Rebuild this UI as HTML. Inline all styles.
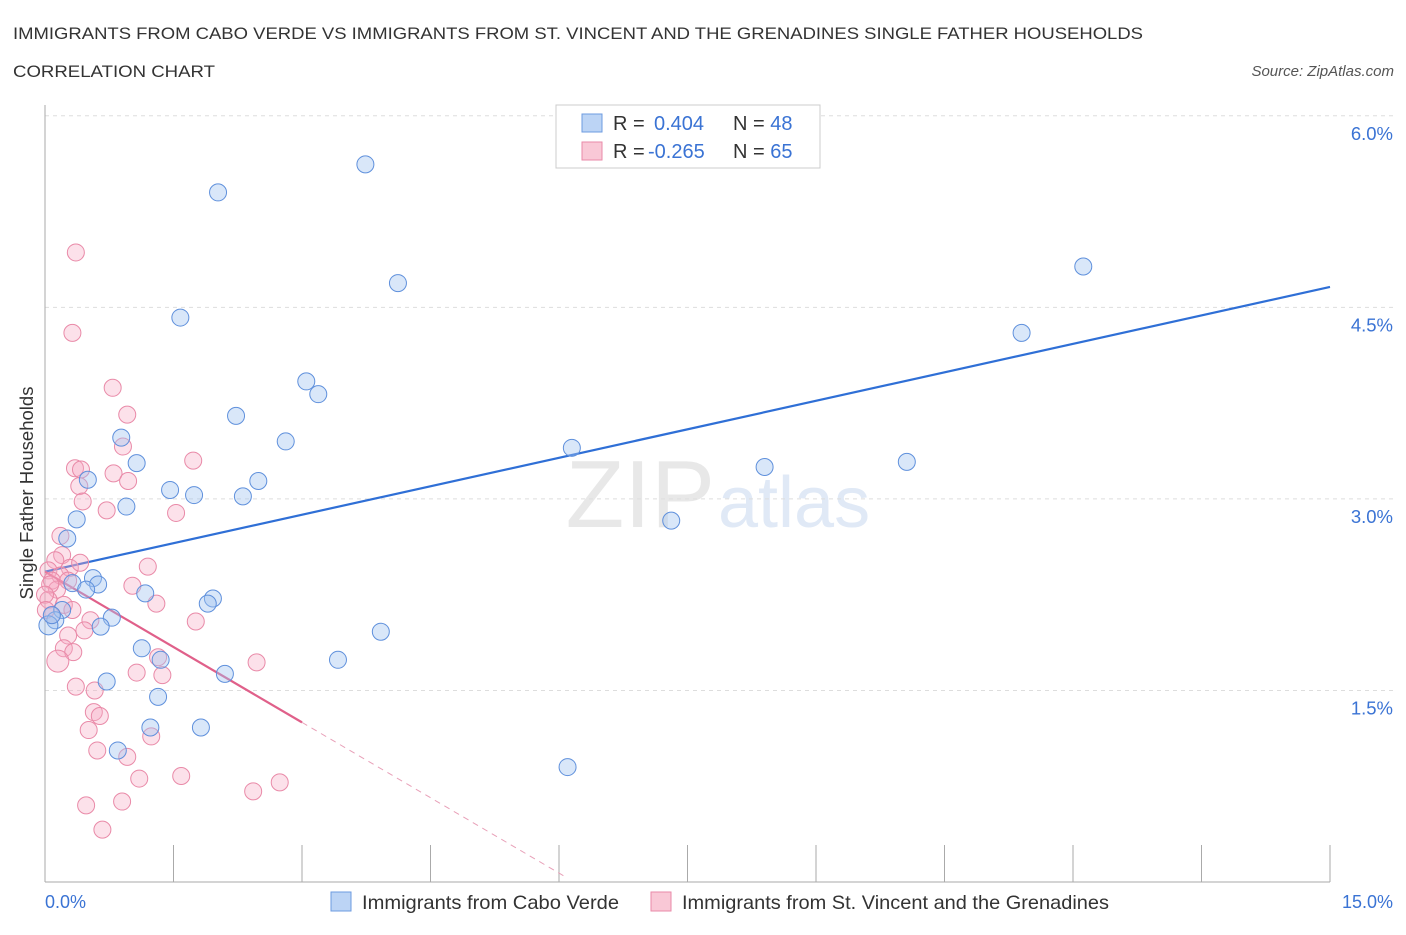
<!DOCTYPE html>
<html><head><meta charset="utf-8"><style>
body{margin:0;background:#fff;font-family:"Liberation Sans",sans-serif;}
svg text{font-family:"Liberation Sans",sans-serif;}
</style></head><body>
<svg id="chart" width="1406" height="930" xmlns="http://www.w3.org/2000/svg">
<text x="13" y="39" font-size="17" fill="#333" textLength="1130" lengthAdjust="spacingAndGlyphs">IMMIGRANTS FROM CABO VERDE VS IMMIGRANTS FROM ST. VINCENT AND THE GRENADINES SINGLE FATHER HOUSEHOLDS</text>
<text x="13" y="77" font-size="17" fill="#333" textLength="202" lengthAdjust="spacingAndGlyphs">CORRELATION CHART</text>
<text x="1394" y="76" font-size="15" fill="#555" font-style="italic" text-anchor="end">Source: ZipAtlas.com</text>
<text x="715" y="527" font-size="96" fill="#e8e8e8" text-anchor="end" font-family="Liberation Serif">ZIP</text>
<text x="718" y="527" font-size="72" fill="#e0e9f6">atlas</text>
<g id="grid"></g><g id="axes"></g><g id="lines"></g><g id="pts"></g>
<text transform="translate(33,493) rotate(-90)" font-size="18.5" fill="#333" text-anchor="middle">Single Father Households</text>
<text x="45" y="908" font-size="18" fill="#3a73d4">0.0%</text>
<text x="1393" y="908" font-size="18" fill="#3a73d4" text-anchor="end">15.0%</text>
<g>
<rect x="556" y="105" width="264" height="63" fill="#fff" stroke="#ccc"/>
<rect x="582" y="114" width="20" height="18" fill="#bcd4f5" stroke="#6d9be0"/>
<rect x="582" y="142" width="20" height="18" fill="#f9c8d6" stroke="#e98aa8"/>
<text x="613" y="130" font-size="20" fill="#333">R = <tspan x="654" fill="#3a73d4">0.404</tspan><tspan x="733">N = </tspan><tspan fill="#3a73d4">48</tspan></text>
<text x="613" y="158" font-size="20" fill="#333">R = <tspan x="648" fill="#3a73d4">-0.265</tspan><tspan x="733">N = </tspan><tspan fill="#3a73d4">65</tspan></text>
</g>
<g>
<rect x="331" y="892" width="20" height="19" fill="#bcd4f5" stroke="#6d9be0"/>
<text x="362" y="909" font-size="19.5" fill="#333" textLength="257" lengthAdjust="spacingAndGlyphs">Immigrants from Cabo Verde</text>
<rect x="651" y="892" width="20" height="19" fill="#f9c8d6" stroke="#e98aa8"/>
<text x="682" y="909" font-size="19.5" fill="#333" textLength="427" lengthAdjust="spacingAndGlyphs">Immigrants from St. Vincent and the Grenadines</text>
</g>
</svg>
<script>
const blueX=[3.74,2.02,4.12,12.12,1.58,11.40,3.05,3.19,2.23,0.89,2.81,6.15,1.07,8.40,10.06,2.49,0.50,1.46,1.74,2.31,0.95,0.37,7.31,0.26,0.56,0.32,0.62,1.17,1.96,1.90,0.20,0.78,0.12,0.04,0.65,3.92,1.13,1.35,3.42,2.10,0.72,1.32,1.23,1.82,0.85,6.10,0.08,0.48];
const blueY=[5.62,5.40,4.69,4.82,4.42,4.30,3.92,3.82,3.65,3.48,3.45,3.40,3.28,3.25,3.29,3.14,3.15,3.07,3.03,3.02,2.94,2.84,2.83,2.69,2.38,2.34,2.33,2.26,2.22,2.18,2.13,2.07,2.05,2.01,2.00,1.96,1.83,1.74,1.74,1.63,1.57,1.45,1.21,1.21,1.03,0.90,2.09,2.29];
const pinkX=[0.36,0.32,0.79,0.96,0.91,1.73,0.35,0.42,0.80,0.97,0.40,0.44,0.72,1.53,0.18,0.20,0.12,1.20,0.29,0.04,0.18,0.08,0.27,1.02,0.14,0.04,0.22,1.30,0.32,0.08,0.53,1.76,0.46,0.27,0.22,0.33,0.15,2.47,1.32,1.07,1.37,0.36,0.58,0.57,0.64,0.51,1.24,0.61,0.96,1.59,1.10,2.74,2.43,0.48,0.90,0.67,0.06,0.00,0.41,0.01];
const pinkY=[4.93,4.30,3.87,3.66,3.41,3.30,3.24,3.23,3.20,3.14,3.10,2.98,2.91,2.89,2.71,2.56,2.52,2.47,2.46,2.44,2.40,2.36,2.36,2.32,2.29,2.21,2.17,2.18,2.13,2.09,2.05,2.04,1.97,1.93,1.83,1.80,1.73,1.72,1.76,1.64,1.62,1.53,1.50,1.33,1.30,1.19,1.14,1.03,0.98,0.83,0.81,0.78,0.71,0.60,0.63,0.41,2.33,2.25,2.50,2.13];
const yTicks=[1.5,3.0,4.5,6.0];
const blueFit=[2.43,4.66];
const pinkFit=[2.43,1.25];
const pinkEndX=6.07;
const NS="http://www.w3.org/2000/svg";
const sx=v=>45+v/15*1285, sy=v=>882-v*127.7;
function mk(t,a,p){const e=document.createElementNS(NS,t);for(const k in a)e.setAttribute(k,a[k]);document.getElementById(p).appendChild(e);return e;}
yTicks.forEach(t=>{
 const l=mk('line',{x1:45,x2:1395,y1:sy(t),y2:sy(t),stroke:'#ddd','stroke-dasharray':'4,4'},'grid');
 
 
 const tx=mk('text',{x:1393,y:sy(t)+24,'font-size':18.5,fill:'#3a73d4','text-anchor':'end'},'grid');
 tx.textContent=t.toFixed(1)+'%';
 
 
});
const ax=mk('line',{x1:45,x2:1330,y1:882,y2:882,stroke:'#aaa'},'axes');


const ay=mk('line',{x1:45,x2:45,y1:105,y2:882,stroke:'#aaa'},'axes');


for(let i=0;i<=10;i++){
 const tk=mk('line',{x1:sx(i*1.5),x2:sx(i*1.5),y1:845,y2:882,stroke:'#aaa'},'axes');
 
 
}
const bl=mk('line',{x1:sx(0),y1:sy(blueFit[0]),x2:sx(15),y2:sy(blueFit[1]),stroke:'#2f6fd6','stroke-width':2.2},'lines');


const slope=(pinkFit[1]-pinkFit[0])/3;
const pl=mk('line',{x1:sx(0),y1:sy(pinkFit[0]),x2:sx(3),y2:sy(pinkFit[1]),stroke:'#e0608a','stroke-width':2.2},'lines');


const pd=mk('line',{x1:sx(3),y1:sy(pinkFit[1]),x2:sx(pinkEndX),y2:sy(pinkFit[0]+slope*pinkEndX),stroke:'#e8a0b8','stroke-width':1,'stroke-dasharray':'6,5'},'lines');


pinkX.forEach((x,i)=>{
 const c=mk('circle',{cx:sx(x),cy:sy(pinkY[i]),r:(i==36?11:8.5),fill:'rgba(246,170,195,0.35)',stroke:'#e98aa8','stroke-width':1},'pts');
 
 
});
blueX.forEach((x,i)=>{
 const c=mk('circle',{cx:sx(x),cy:sy(blueY[i]),r:(i==33?9.5:8.5),fill:'rgba(160,195,240,0.4)',stroke:'#5f90dc','stroke-width':1},'pts');
 
 
});
</script>
</body></html>
